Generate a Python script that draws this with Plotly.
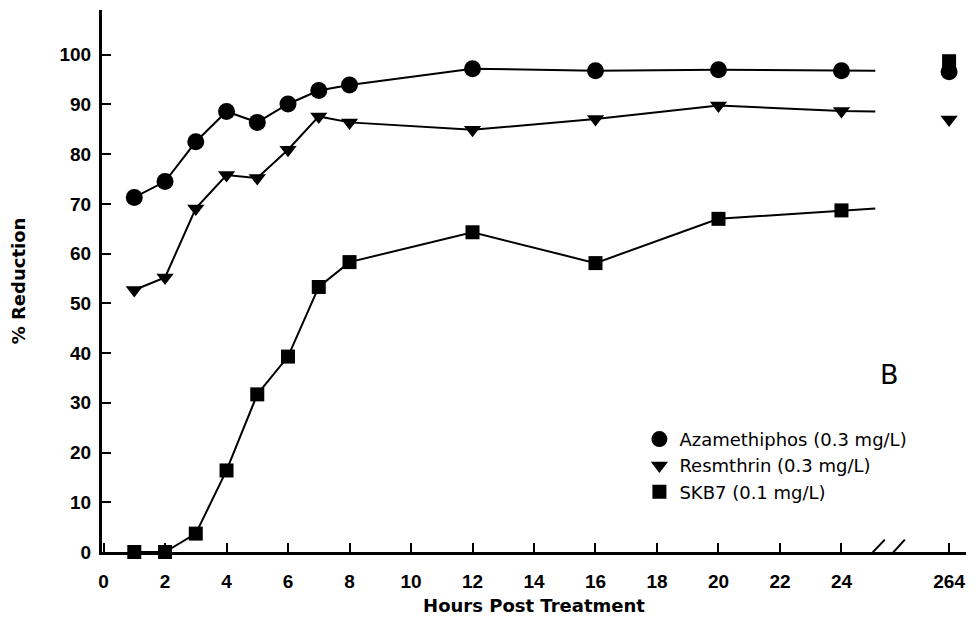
import plotly.graph_objects as go

# Sampling times (hours post treatment); the last sample is drawn past the axis break
hours = [1, 2, 3, 4, 5, 6, 7, 8, 12, 16, 20, 24]
late_hour_label = "264"
late_hour_pos = 27.5          # axis position used for the 264 h sample
cut_pos = 25.1                # where the connecting lines stop at the break

azamethiphos = [71.3, 74.5, 82.5, 88.6, 86.4, 90.1, 92.8, 93.9, 97.2, 96.8, 97.0, 96.8]
resmthrin = [52.7, 55.2, 69.1, 75.8, 75.2, 80.9, 87.6, 86.4, 84.9, 87.1, 89.8, 88.7]
skb7 = [0.0, 0.0, 3.7, 16.4, 31.7, 39.3, 53.3, 58.3, 64.3, 58.1, 67.0, 68.7]

late_values = {"Azamethiphos": 96.6, "Resmthrin": 87.0, "SKB7": 98.7}
cut_values = {"Azamethiphos": 96.8, "Resmthrin": 88.6, "SKB7": 69.1}

x_ticks = [0, 2, 4, 6, 8, 10, 12, 14, 16, 18, 20, 22, 24]
y_ticks = [0, 10, 20, 30, 40, 50, 60, 70, 80, 90, 100]

series = [
    ("Azamethiphos", "Azamethiphos (0.3 mg/L)", azamethiphos, "circle", 17),
    ("Resmthrin", "Resmthrin (0.3 mg/L)", resmthrin, "triangle-down", 15),
    ("SKB7", "SKB7 (0.1 mg/L)", skb7, "square", 14),
]

fig = go.Figure()

for key, label, vals, symbol, size in series:
    # connecting line, running on to the axis break
    fig.add_trace(go.Scatter(
        x=hours + [cut_pos], y=vals + [cut_values[key]],
        mode="lines", line=dict(color="black", width=2),
        showlegend=False, hoverinfo="skip", cliponaxis=False,
    ))
    # measured points, including the 264 h sample
    fig.add_trace(go.Scatter(
        x=hours + [late_hour_pos], y=vals + [late_values[key]],
        mode="markers", name=label,
        marker=dict(symbol=symbol, size=size, color="black"),
        cliponaxis=False,
    ))

# axis break: blank the axis between two slashes
shapes = [
    dict(type="line", xref="x", yref="y", x0=25.05, x1=25.68, y0=0, y1=0,
         line=dict(color="white", width=5), layer="above"),
    dict(type="line", xref="x", yref="y", x0=24.63, x1=25.41, y0=-2.6, y1=2.5,
         line=dict(color="black", width=2), layer="above"),
    dict(type="line", xref="x", yref="y", x0=25.33, x1=26.06, y0=-2.5, y1=2.5,
         line=dict(color="black", width=2), layer="above"),
]

title_font = "DejaVu Sans, sans-serif"
tick_font = dict(family="Liberation Sans, Arial, sans-serif", size=19,
                 color="black", weight="bold")

fig.update_layout(
    width=977, height=629,
    margin=dict(l=102, r=11, t=10, b=77),
    paper_bgcolor="white", plot_bgcolor="white",
    font=dict(family="Liberation Sans, Arial, sans-serif", color="black"),
    shapes=shapes,
    showlegend=True,
    legend=dict(
        x=0.622, y=0.242, xanchor="left", yanchor="top",
        bgcolor="rgba(0,0,0,0)",
        font=dict(family=title_font, size=18, color="black"),
        itemwidth=30, tracegroupgap=0,
    ),
    annotations=[dict(
        x=0.912, y=0.327, xref="paper", yref="paper",
        xanchor="center", yanchor="middle",
        text="B", showarrow=False,
        font=dict(family=title_font, size=27, color="black"),
    )],
)

fig.update_xaxes(
    range=[-0.05, 28.05],
    tickmode="array",
    tickvals=x_ticks + [late_hour_pos],
    ticktext=[str(t) for t in x_ticks] + [late_hour_label],
    ticks="inside", ticklen=9, tickwidth=2, tickcolor="black",
    showline=True, linecolor="black", linewidth=3,
    showgrid=False, zeroline=False,
    tickfont=tick_font,
    ticklabelstandoff=10,
    title=dict(text="<b>Hours Post Treatment</b>", standoff=9,
               font=dict(family=title_font, size=18, color="black")),
)

fig.update_yaxes(
    range=[0, 109],
    tickmode="array", tickvals=y_ticks,
    ticktext=[str(t) for t in y_ticks],
    ticks="inside", ticklen=9, tickwidth=2, tickcolor="black",
    showline=True, linecolor="black", linewidth=3,
    showgrid=False, zeroline=False,
    tickfont=tick_font,
    ticklabelstandoff=4,
    title=dict(text="<b>% Reduction</b>", standoff=30,
               font=dict(family=title_font, size=18, color="black")),
)

fig.write_html("out.html")
